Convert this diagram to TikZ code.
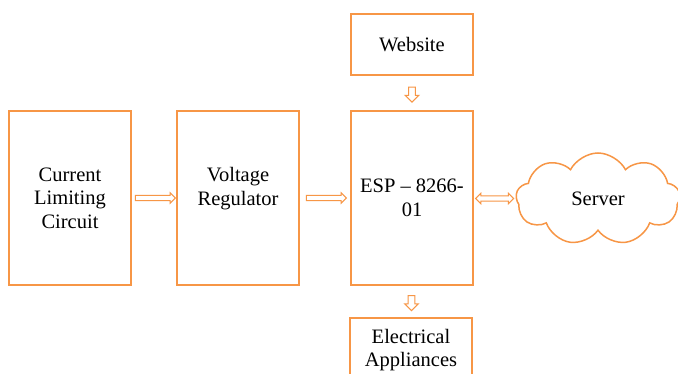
\documentclass[tikz,border=0pt]{standalone}
\usepackage{fontspec}
\setmainfont{Liberation Serif}
\usetikzlibrary{shapes.arrows,shapes.symbols}
\definecolor{borange}{RGB}{247,150,70}
\begin{document}
\begin{tikzpicture}[x=1pt,y=-1pt,
  box/.style={draw=borange,line width=1.6pt,minimum width=122pt,inner sep=0pt,align=center,
    font=\fontsize{20.5}{23.5}\selectfont},
  lbl/.style={align=center,inner sep=0pt,font=\fontsize{20.5}{23.5}\selectfont},
  harrow/.style={single arrow,draw=borange,line width=1pt,fill=white,
    single arrow head extend=2.5pt,inner xsep=0pt,inner ysep=2.2pt,minimum height=#1},
  darrow/.style={double arrow,draw=borange,line width=1pt,fill=white,
    double arrow head extend=2.5pt,inner xsep=0pt,inner ysep=2.2pt,minimum height=#1},
  varrow/.style={single arrow,draw=borange,line width=1.1pt,fill=white,
    single arrow head extend=3.5pt,inner ysep=0pt,inner xsep=2.8pt,minimum height=15pt,shape border rotate=270}]
\clip (0,0) rectangle (678,374);
\fill[white] (0,0) rectangle (678,374);
\node[box,minimum height=174pt] (clc) at (70,198) {Current\\Limiting\\Circuit};
\node[box,minimum height=174pt] (vr) at (238,198) {};
\node[lbl] (vrt) at (238,188.5) {Voltage\\Regulator};
\node[box,minimum height=174pt] (esp) at (412,198) {ESP -- 8266-\\01};
\node[box,minimum height=61pt] (web) at (412,44.5) {Website};
\node[box,minimum height=64pt] (app) at (411,350) {Electrical\\Appliances};
\node[cloud,draw=borange,line width=1.5pt,cloud puffs=9,cloud puff arc=125,aspect=1.8,
  minimum width=164pt,minimum height=92pt,inner sep=0pt,font=\fontsize{20.5}{23.5}\selectfont]
  (srv) at (598,199) {Server};
\path (clc.east) -- (vr.west) node[midway,harrow=40pt] (a1) {};
\path (vr.east) -- (esp.west) node[midway,harrow=40pt] (a2) {};
\path (esp.east) -- (srv.west) node[midway,darrow=38pt] (a3) {};
\path (web.south) -- (esp.north) node[midway,varrow] (a4) {};
\path (esp.south) -- (app.north) node[midway,varrow] (a5) {};
\end{tikzpicture}
\end{document}
